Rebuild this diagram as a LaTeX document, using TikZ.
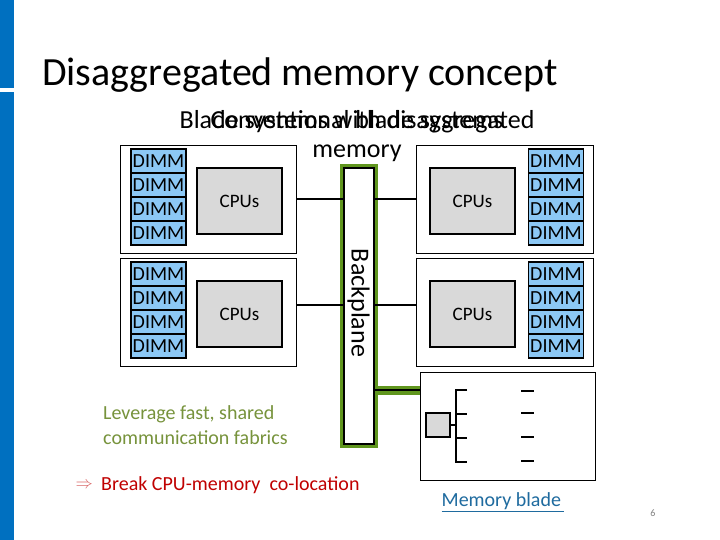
\documentclass[tikz,border=0pt]{standalone}
\usepackage{fontspec}
\setmainfont{Carlito}
\begin{document}
\begin{tikzpicture}[x=1pt,y=-1pt,
  box/.style={draw=black,thin,fill=white},
  dimm/.style={draw=black,line width=1.2pt,fill=dimmblue,minimum width=55pt,minimum height=24pt,inner sep=0pt,font=\fontsize{20}{20}\selectfont},
  cpu/.style={draw=black,line width=1.2pt,fill=cpugray,minimum width=85pt,minimum height=66pt,inner sep=0pt,font=\fontsize{19}{19}\selectfont},
  link/.style={line width=1.5pt}]
\definecolor{dimmblue}{RGB}{140,200,245}
\definecolor{cpugray}{RGB}{217,217,217}
\definecolor{barblue}{RGB}{0,112,192}
\definecolor{fabgreen}{RGB}{96,150,30}
\definecolor{txtgreen}{RGB}{119,147,60}
\definecolor{redtxt}{RGB}{192,0,0}
\definecolor{linkblue}{RGB}{31,107,159}
\useasboundingbox (0,0) rectangle (720,540);
\fill[white] (0,0) rectangle (720,540);
\fill[barblue] (0,0) rectangle (14,88);
\fill[barblue] (0,92) rectangle (14,540);
\node[anchor=base west,inner sep=0pt,font=\fontsize{40}{40}\selectfont] (title) at (42,86) {Disaggregated memory concept};
\node[inner sep=0pt,font=\fontsize{26}{26}\selectfont] (h1) at (357,122) {Blade systems with disaggregated};
\node[inner sep=0pt,font=\fontsize{26}{26}\selectfont] (h2) at (357,122) {Conventional blade systems};
\node[inner sep=0pt,font=\fontsize{26}{26}\selectfont] (h3) at (357,153) {memory};
% backplane
\node[draw=fabgreen,line width=4pt,minimum width=34pt,minimum height=280pt,inner sep=0pt] (bpg) at (358.5,306) {};
\node[draw=black,line width=2pt,fill=white,minimum width=30pt,minimum height=276pt,inner sep=0pt] (bp) at (358.5,306) {};
\node[rotate=-90,font=\fontsize{26}{26}\selectfont,inner sep=0pt] (bpt) at (358.5,303) {Backplane};
% blades
\foreach \n/\y in {a/145,b/258}{
  \node[box,anchor=north west,minimum width=176pt,minimum height=108pt,inner sep=0pt] (L\n) at (120,\y) {};
  \foreach \k in {0,1,2,3}{
    \node[dimm] (L\n d\k) at (158.5,\y+16+24*\k) {DIMM};
  }
  \node[cpu] (L\n c) at (239.5,\y+56) {CPUs};
  \node[box,anchor=north west,minimum width=177pt,minimum height=108pt,inner sep=0pt] (R\n) at (416,\y) {};
  \foreach \k in {0,1,2,3}{
    \node[dimm] (R\n d\k) at (556,\y+16+24*\k) {DIMM};
  }
  \node[cpu] (R\n c) at (472.5,\y+56) {CPUs};
}
\coordinate (pa) at (343,199); \coordinate (qa) at (373,199);
\coordinate (pb) at (343,305); \coordinate (qb) at (373,305);
\draw[link] (La.east |- pa) -- (pa);
\draw[link] (Lb.east |- pb) -- (pb);
\draw[link] (qa) -- (Ra.west |- qa);
\draw[link] (qb) -- (Rb.west |- qb);
% memory blade
\node[box,anchor=north west,minimum width=175pt,minimum height=108pt,inner sep=0pt] (M) at (420,372) {};
\coordinate (g0) at (373,390);
\draw[fabgreen,line width=9pt] (377,390) -- (M.west |- g0);
\draw[link] (g0) -- (M.west |- g0);
\node[draw=black,line width=1.2pt,fill=cpugray,minimum size=24pt,inner sep=0pt] (mc) at (438,425) {};
\draw[line width=2pt] (mc.east) -- (456,425);
\draw[line width=2.5pt] (467,390) -- (456,390) -- (456,462) -- (467,462);
\draw[line width=2.5pt] (456,414) -- (467,414) (456,438) -- (467,438);
\foreach \yy in {391,413,437,461} \draw[line width=1.5pt] (521,\yy) -- (534,\yy);
\node[font=\fontsize{20}{20}\selectfont,text=linkblue,inner sep=1pt] (mb) at (503,502) {\underline{Memory blade\,}};
% texts
\node[anchor=west,align=left,text=txtgreen,font=\fontsize{20}{25}\selectfont,inner sep=0pt] (lev) at (103,425) {Leverage fast, shared\\communication fabrics};
\node[anchor=west,text=redtxt,font=\fontsize{20}{20}\selectfont,inner sep=0pt] (brk) at (101,485) {Break CPU-memory\ \ co-location};
\node[anchor=east,text=redtxt!60,font=\fontsize{18}{18}\selectfont,inner sep=0pt] (arr) at (93,485) {$\Rightarrow$};
\node[text=gray,font=\fontsize{10}{10}\selectfont,inner sep=0pt] (pg) at (653,513) {6};
\end{tikzpicture}
\end{document}
